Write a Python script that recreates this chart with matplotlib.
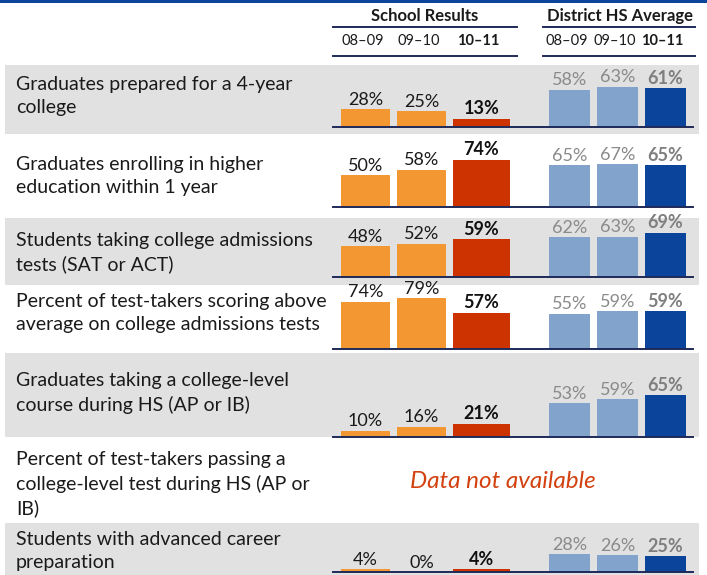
import matplotlib.pyplot as plt
from matplotlib.patches import Rectangle

plt.rcParams['font.family'] = ['Lato', 'DejaVu Sans']

# data
labels = [
    'Graduates prepared for a 4-year\ncollege',
    'Graduates enrolling in higher\neducation within 1 year',
    'Students taking college admissions\ntests (SAT or ACT)',
    'Percent of test-takers scoring above\naverage on college admissions tests',
    'Graduates taking a college-level\ncourse during HS (AP or IB)',
    'Percent of test-takers passing a\ncollege-level test during HS (AP or\nIB)',
    'Students with advanced career\npreparation',
]
years = ['08\u201309', '09\u201310', '10\u201311']
school = [[28, 25, 13], [50, 58, 74], [48, 52, 59], [74, 79, 57],
          [10, 16, 21], None, [4, 0, 4]]
district = [[58, 63, 61], [65, 67, 65], [62, 63, 69], [55, 59, 59],
            [53, 59, 65], None, [28, 26, 25]]

# layout (pixels)
W, H = 707, 575
row_top = [65, 134, 218, 285, 353, 437, 523]
row_bot = [134, 218, 285, 353, 437, 523, 575]
base_y = [127, 207, 277, 349, 437, None, 572]
text_y = [96, 176, 253, 313, 393, 484, 551]
px_per_pct = 0.64

bar_x = [365.5, 421.5, 481.5, 569.5, 617.5, 665.5]
bar_w = [49, 49, 57, 41, 41, 41]
bar_c = ['#F39733', '#F39733', '#CC3300', '#82A3CB', '#82A3CB', '#0B449B']
lab_c = ['#1a1a1a', '#1a1a1a', '#111111', '#8a8a8a', '#8a8a8a', '#7f7f7f']
lab_w = ['normal', 'normal', 'bold', 'normal', 'normal', 'bold']

fig = plt.figure(figsize=(W / 100, H / 100), dpi=100)
ax = fig.add_axes([0, 0, 1, 1])
ax.set_xlim(0, W)
ax.set_ylim(H, 0)
ax.axis('off')

# top band
ax.add_patch(Rectangle((0, 0), W, 3, color='#0B449B', lw=0))

# header
ax.text(425, 16, 'School Results', ha='center', va='center', fontsize=12, fontweight='bold', color='#1a1a1a')
ax.text(620, 16, 'District HS Average', ha='center', va='center', fontsize=12, fontweight='bold', color='#1a1a1a')
for yy in (27, 56):
    ax.plot([333, 517], [yy, yy], color='#1F2A5A', lw=1.4)
    ax.plot([543, 695], [yy, yy], color='#1F2A5A', lw=1.4)
for j in range(6):
    ax.text(bar_x[j] - 3, 41, years[j % 3], ha='center', va='center', fontsize=10.5,
            fontweight='bold' if j % 3 == 2 else 'normal', color='#1a1a1a')

for i in range(len(labels)):
    if i % 2 == 0:
        ax.add_patch(Rectangle((5, row_top[i]), 694, row_bot[i] - row_top[i], color='#E1E1E1', lw=0, zorder=0))
    ax.text(16, text_y[i], labels[i], ha='left', va='center', fontsize=14,
            color='#1a1a1a', linespacing=1.42)

    if school[i] is None:
        ax.text(503, 481, 'Data not available', ha='center', va='center', fontsize=17.5,
                style='italic', color='#D2410F')
        continue

    b = base_y[i]
    hpx = 70
    bax = fig.add_axes([0, (H - b) / H, 1, hpx / H])
    bax.set_xlim(0, W)
    bax.set_ylim(0, hpx / px_per_pct)
    bax.axis('off')
    vals = school[i] + district[i]
    bax.bar(bar_x, vals, width=bar_w, color=bar_c, lw=0)
    bax.plot([333, 693], [0, 0], color='#1F2A5A', lw=1.4, clip_on=False)
    for j, v in enumerate(vals):
        bax.annotate(f'{v}%', (bar_x[j], v), xytext=(0, 1), textcoords='offset points',
                     ha='center', va='bottom', fontsize=13, color=lab_c[j],
                     fontweight=lab_w[j], annotation_clip=False)

fig.savefig('out.png', dpi=100)
